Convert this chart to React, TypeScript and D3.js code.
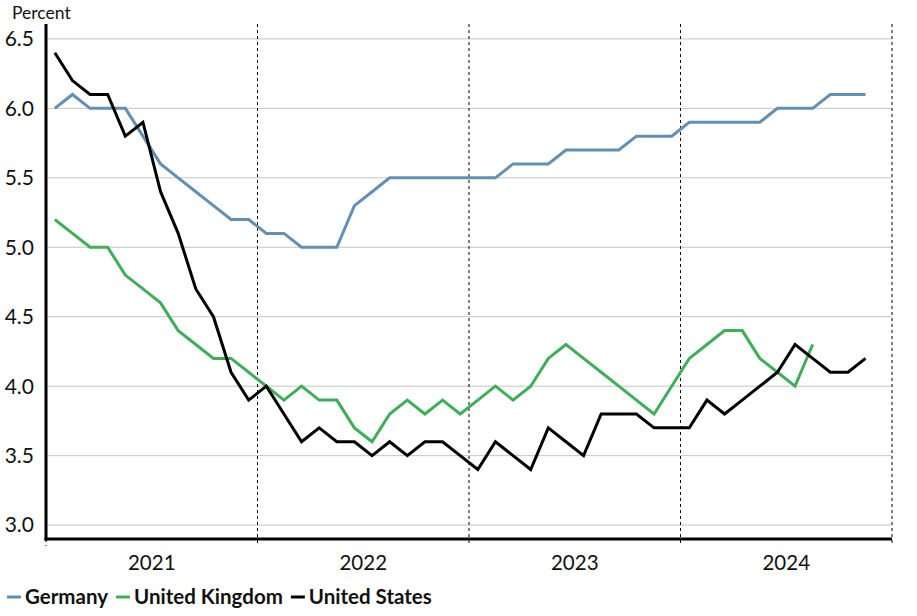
import { useEffect, useRef } from "react";
import * as d3 from "d3";

// Monthly values, Jan 2021 onward (percent)
const germany = [
  6.0, 6.1, 6.0, 6.0, 6.0, 5.8, 5.6, 5.5, 5.4, 5.3, 5.2, 5.2,
  5.1, 5.1, 5.0, 5.0, 5.0, 5.3, 5.4, 5.5, 5.5, 5.5, 5.5, 5.5,
  5.5, 5.5, 5.6, 5.6, 5.6, 5.7, 5.7, 5.7, 5.7, 5.8, 5.8, 5.8,
  5.9, 5.9, 5.9, 5.9, 5.9, 6.0, 6.0, 6.0, 6.1, 6.1, 6.1,
];
const unitedKingdom = [
  5.2, 5.1, 5.0, 5.0, 4.8, 4.7, 4.6, 4.4, 4.3, 4.2, 4.2, 4.1,
  4.0, 3.9, 4.0, 3.9, 3.9, 3.7, 3.6, 3.8, 3.9, 3.8, 3.9, 3.8,
  3.9, 4.0, 3.9, 4.0, 4.2, 4.3, 4.2, 4.1, 4.0, 3.9, 3.8, 4.0,
  4.2, 4.3, 4.4, 4.4, 4.2, 4.1, 4.0, 4.3,
];
const unitedStates = [
  6.4, 6.2, 6.1, 6.1, 5.8, 5.9, 5.4, 5.1, 4.7, 4.5, 4.1, 3.9,
  4.0, 3.8, 3.6, 3.7, 3.6, 3.6, 3.5, 3.6, 3.5, 3.6, 3.6, 3.5,
  3.4, 3.6, 3.5, 3.4, 3.7, 3.6, 3.5, 3.8, 3.8, 3.8, 3.7, 3.7,
  3.7, 3.9, 3.8, 3.9, 4.0, 4.1, 4.3, 4.2, 4.1, 4.1, 4.2,
];
const years = ["2021", "2022", "2023", "2024"];
const yTicks = [3.0, 3.5, 4.0, 4.5, 5.0, 5.5, 6.0, 6.5];

const seriesList = [
  { name: "Germany", values: germany, color: "#6290b5" },
  { name: "United Kingdom", values: unitedKingdom, color: "#3fae58" },
  { name: "United States", values: unitedStates, color: "#000000" },
];

const W = 917;
const H = 616;
const FONT = "Lato, 'Open Sans', sans-serif";

export default function App() {
  const ref = useRef<SVGSVGElement>(null);

  useEffect(() => {
    if (!ref.current) return;
    document.body.style.margin = "0";
    const svg = d3.select(ref.current);
    svg.selectAll("*").remove();

    const left = 46, right = 892, top = 24, bottom = 539;

    const x = d3.scaleLinear().domain([0, years.length * 12]).range([left, right]);
    const y = d3.scaleLinear().domain([2.9, 6.6]).range([bottom, top + 1]);

    // grid lines
    svg.append("g")
      .selectAll("line")
      .data(yTicks)
      .enter()
      .append("line")
      .attr("x1", left)
      .attr("x2", right)
      .attr("y1", d => y(d))
      .attr("y2", d => y(d))
      .attr("stroke", "#c4c4c4")
      .attr("stroke-width", 1);

    // y tick labels
    svg.append("g")
      .selectAll("text")
      .data(yTicks)
      .enter()
      .append("text")
      .attr("x", 34)
      .attr("y", d => y(d))
      .attr("dy", "0.35em")
      .attr("text-anchor", "end")
      .attr("font-family", FONT)
      .attr("font-size", 21)
      .attr("fill", "#111")
      .text(d => d.toFixed(1));

    svg.append("text")
      .attr("x", 12)
      .attr("y", 19)
      .attr("font-family", FONT)
      .attr("font-size", 17.5)
      .attr("fill", "#111")
      .text("Percent");

    // year separators (dashed)
    const yearEdges = d3.range(years.length + 1).map(i => i * 12);
    svg.append("g")
      .selectAll("line")
      .data(yearEdges)
      .enter()
      .append("line")
      .attr("x1", d => x(d))
      .attr("x2", d => x(d))
      .attr("y1", d => (d === 0 ? bottom : top))
      .attr("y2", bottom + 7)
      .attr("stroke", "#000")
      .attr("stroke-width", 1)
      .attr("stroke-dasharray", "3,3");

    // year labels
    svg.append("g")
      .selectAll("text")
      .data(years)
      .enter()
      .append("text")
      .attr("x", (_, i) => x(i * 12 + 6))
      .attr("y", 570)
      .attr("text-anchor", "middle")
      .attr("font-family", FONT)
      .attr("font-size", 20.5)
      .attr("fill", "#111")
      .text(d => d);

    // axes
    svg.append("line")
      .attr("x1", left).attr("x2", left)
      .attr("y1", top).attr("y2", bottom + 1.5)
      .attr("stroke", "#000").attr("stroke-width", 3);
    svg.append("line")
      .attr("x1", left - 1.5).attr("x2", right)
      .attr("y1", bottom).attr("y2", bottom)
      .attr("stroke", "#000").attr("stroke-width", 3);

    // series lines
    const line = d3.line<number>()
      .x((_, i) => x(i + 0.5))
      .y(d => y(d));

    seriesList.forEach(s => {
      svg.append("path")
        .datum(s.values)
        .attr("fill", "none")
        .attr("stroke", s.color)
        .attr("stroke-width", 3)
        .attr("stroke-linejoin", "miter")
        .attr("d", line);
    });

    // legend
    const legend = svg.append("g").attr("transform", "translate(7,597)");
    let lx = 0;
    seriesList.forEach(s => {
      const g = legend.append("g").attr("transform", `translate(${lx},0)`);
      g.append("line")
        .attr("x1", 0).attr("x2", 14)
        .attr("y1", 0).attr("y2", 0)
        .attr("stroke", s.color)
        .attr("stroke-width", 3);
      const t = g.append("text")
        .attr("x", 18)
        .attr("y", 0)
        .attr("dy", "0.35em")
        .attr("font-family", FONT)
        .attr("font-size", 20.5)
        .attr("font-weight", "bold")
        .attr("fill", "#111")
        .text(s.name);
      const w = (t.node() as SVGTextElement).getComputedTextLength();
      lx += 18 + w + 8;
    });
  }, []);

  return <svg ref={ref} width={W} height={H} style={{ display: "block" }} />;
}
